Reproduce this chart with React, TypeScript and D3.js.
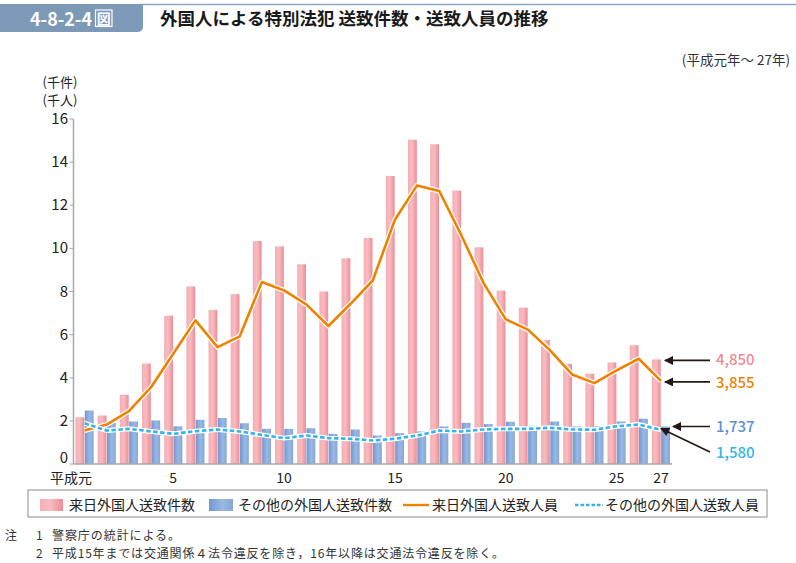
import React from "react";
import * as d3 from "d3";

const years = d3.range(1, 28);
const tickYears = [1, 5, 10, 15, 20, 25, 27];
const tickLabels = ["平成元", "5", "10", "15", "20", "25", "27"];
const yTicks = [0, 2, 4, 6, 8, 10, 12, 14, 16];

const raiCases = [2.17, 2.25, 3.21, 4.66, 6.88, 8.24, 7.15, 7.88, 10.34, 10.09, 9.26, 8.0, 9.54, 10.48, 13.36, 15.04, 14.83, 12.68, 10.05, 8.04, 7.25, 5.75, 4.65, 4.19, 4.71, 5.51, 4.85];
const otherCases = [2.48, 1.9, 1.97, 2.02, 1.75, 2.05, 2.13, 1.89, 1.63, 1.63, 1.66, 1.4, 1.6, 1.32, 1.43, 1.51, 1.74, 1.91, 1.85, 1.96, 1.77, 1.97, 1.74, 1.75, 1.97, 2.1, 1.737];
const raiPersons = [1.55, 1.83, 2.45, 3.56, 5.11, 6.66, 5.42, 5.92, 8.44, 8.05, 7.4, 6.4, 7.43, 8.51, 11.33, 12.92, 12.66, 10.6, 8.39, 6.71, 6.23, 5.27, 4.15, 3.75, 4.34, 4.88, 3.855];
const otherPersons = [1.89, 1.55, 1.63, 1.51, 1.4, 1.52, 1.6, 1.51, 1.35, 1.2, 1.32, 1.2, 1.17, 1.09, 1.17, 1.32, 1.55, 1.51, 1.6, 1.63, 1.63, 1.68, 1.6, 1.59, 1.75, 1.83, 1.58];

const legendItems = ["来日外国人送致件数", "その他の外国人送致件数", "来日外国人送致人員", "その他の外国人送致人員"];
const endLabels = ["4,850", "3,855", "1,737", "1,580"];

const FONT = "'Noto Sans CJK JP', 'Noto Sans', sans-serif";
const ORANGE = "#ef8200";
const LBLUE = "#34b4ec";
const AXIS = "#a8a8a8";

export default function App() {
  const W = 796, H = 563;
  const x = d3.scaleBand<number>().domain(years).range([73.5, 672]).paddingInner(0).paddingOuter(0);
  const sub = d3.scaleBand<string>().domain(["rai", "other"]).range([2, x.bandwidth() - 2]).paddingInner(0.05);
  const y = d3.scaleLinear().domain([0, 16]).range([464, 119]);
  const cx = (yr: number) => (x(yr) as number) + x.bandwidth() / 2;

  const line = d3.line<number>().x((_, i) => cx(years[i])).y((d) => y(d));
  const raiPath = line(raiPersons) || "";
  const otherPath = line(otherPersons) || "";

  const last = years.length - 1;
  const lc = cx(years[last]);

  const anns = [
    { label: endLabels[0], color: "#f08a94", x1: 710, y1: y(raiCases[last]) + 1, x2: lc + 4, y2: y(raiCases[last]) + 1, ly: y(raiCases[last]) },
    { label: endLabels[1], color: ORANGE, x1: 710, y1: y(raiPersons[last]) + 1, x2: lc + 4, y2: y(raiPersons[last]) + 1, ly: y(raiPersons[last]) + 1.5 },
    { label: endLabels[2], color: "#5d8fd2", x1: 710, y1: y(otherCases[last]), x2: lc + 12, y2: y(otherCases[last]), ly: y(otherCases[last]) },
    { label: endLabels[3], color: LBLUE, x1: 710, y1: 452, x2: lc, y2: y(otherPersons[last]) - 1.5, ly: 452 },
  ];

  return (
    <svg width={W} height={H} style={{ display: "block", position: "absolute", left: 0, top: 0 }} fontFamily={FONT}>
      <defs>
        <linearGradient id="gPink" x1="0" x2="1" y1="0" y2="0">
          <stop offset="0%" stopColor="#f5aeb4" />
          <stop offset="45%" stopColor="#f7bcc0" />
          <stop offset="100%" stopColor="#ee8c96" />
        </linearGradient>
        <linearGradient id="gBlue" x1="0" x2="1" y1="0" y2="0">
          <stop offset="0%" stopColor="#6f98d3" />
          <stop offset="55%" stopColor="#9ab8e2" />
          <stop offset="100%" stopColor="#84a7db" />
        </linearGradient>
        <marker id="arr" viewBox="0 0 10 10" refX="9" refY="5" markerWidth="11" markerHeight="9" orient="auto" markerUnits="userSpaceOnUse">
          <path d="M10,5 L0,0 L0,10 Z" fill="#231815" />
        </marker>
      </defs>

      {/* Header */}
      <line x1={140} x2={796} y1={4.5} y2={4.5} stroke="#8da5c1" strokeWidth={1.5} />
      <path d="M0,4 H143 V26 Q143,32 137,32 H0 Z" fill="#7d99b8" />
      <text x={30} y={25.5} fill="#fff" fontSize={18.5} fontWeight={700} textLength={62} lengthAdjust="spacingAndGlyphs">4-8-2-4</text>
      <rect x={95.5} y={10} width={16.5} height={16.5} fill="none" stroke="#fff" strokeWidth={1.2} />
      <text x={103.75} y={24} fill="#fff" fontSize={14} fontWeight={700} textAnchor="middle">図</text>
      <text x={160} y={25} fill="#1a1a1a" fontSize={17.5} fontWeight={700}>外国人による特別法犯 送致件数・送致人員の推移</text>
      <text x={790} y={64.5} fill="#333" fontSize={13.5} textAnchor="end">(平成元年～ 27年)</text>

      {/* Y axis */}
      <text x={60} y={86.5} fill="#222" fontSize={13} textAnchor="middle">(千件)</text>
      <text x={60} y={105} fill="#222" fontSize={13} textAnchor="middle">(千人)</text>
      <line x1={73.5} x2={73.5} y1={y(16)} y2={y(0)} stroke={AXIS} strokeWidth={1.5} />
      {yTicks.map((t) => (
        <g key={t}>
          <line x1={69.5} x2={73.5} y1={y(t)} y2={y(t)} stroke={AXIS} strokeWidth={1} />
          <text x={68} y={t === 0 ? y(t) - 1.5 : y(t) + 5} fill="#222" fontSize={15} textAnchor="end">{t}</text>
        </g>
      ))}

      {/* Bars */}
      {years.map((yr, i) => (
        <g key={yr}>
          <rect x={(x(yr) as number) + (sub("rai") as number)} y={y(raiCases[i])} width={sub.bandwidth()} height={y(0) - y(raiCases[i])} fill="url(#gPink)" />
          <rect x={(x(yr) as number) + (sub("other") as number)} y={y(otherCases[i])} width={sub.bandwidth()} height={y(0) - y(otherCases[i])} fill="url(#gBlue)" />
        </g>
      ))}

      {/* Lines */}
      <path d={raiPath} fill="none" stroke="#fff" strokeWidth={5} strokeLinejoin="round" />
      <path d={raiPath} fill="none" stroke={ORANGE} strokeWidth={2.6} strokeLinejoin="round" />
      <path d={otherPath} fill="none" stroke="#fff" strokeWidth={5} strokeLinejoin="round" />
      <path d={otherPath} fill="none" stroke={LBLUE} strokeWidth={2.6} strokeDasharray="4.5 2.5" />

      {/* X axis */}
      <line x1={73.5} x2={672} y1={y(0)} y2={y(0)} stroke={AXIS} strokeWidth={1.5} />
      {tickYears.map((t, i) => (
        <text key={t} x={i === 0 ? cx(t) + 7.5 : cx(t)} y={482.5} fill="#222" fontSize={14} textAnchor={i === 0 ? "end" : "middle"}>{tickLabels[i]}</text>
      ))}

      {/* Annotations */}
      {anns.map((a) => (
        <g key={a.label}>
          <line x1={a.x1} y1={a.y1} x2={a.x2} y2={a.y2} stroke="#231815" strokeWidth={1.6} markerEnd="url(#arr)" />
          <text x={716} y={a.ly + 5.5} fill={a.color} fontSize={15} fontWeight={500}>{a.label}</text>
        </g>
      ))}

      {/* Legend */}
      <rect x={28} y={490} width={739} height={27} fill="#fff" stroke="#8c8c8c" strokeWidth={1} />
      <rect x={40} y={499} width={23} height={12} fill="url(#gPink)" />
      <text x={69} y={509.5} fill="#222" fontSize={14}>{legendItems[0]}</text>
      <rect x={209} y={499} width={24} height={12} fill="url(#gBlue)" />
      <text x={238} y={509.5} fill="#222" fontSize={14}>{legendItems[1]}</text>
      <line x1={403} x2={429} y1={505} y2={505} stroke={ORANGE} strokeWidth={2.4} />
      <text x={432} y={509.5} fill="#222" fontSize={14}>{legendItems[2]}</text>
      <line x1={575} x2={603} y1={505} y2={505} stroke={LBLUE} strokeWidth={2.4} strokeDasharray="3.5 2" />
      <text x={605} y={509.5} fill="#222" fontSize={14}>{legendItems[3]}</text>

      {/* Notes */}
      <text x={5} y={540} fill="#333" fontSize={12}>注</text>
      <text x={36} y={540} fill="#333" fontSize={12}>1</text>
      <text x={52} y={540} fill="#333" fontSize={12} textLength={128} lengthAdjust="spacing">警察庁の統計による。</text>
      <text x={36} y={558} fill="#333" fontSize={12}>2</text>
      <text x={52} y={558} fill="#333" fontSize={12} textLength={452} lengthAdjust="spacing">平成15年までは交通関係４法令違反を除き，16年以降は交通法令違反を除く。</text>
    </svg>
  );
}
